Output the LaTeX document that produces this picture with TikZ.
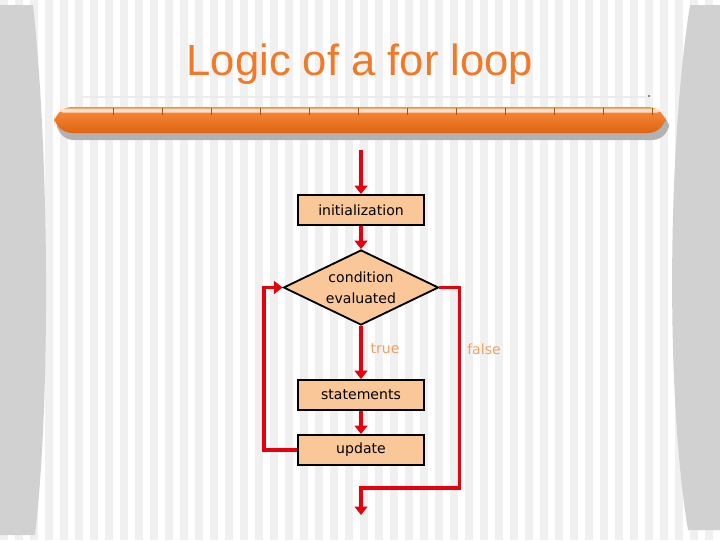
\documentclass[tikz,border=0pt]{standalone}
\usepackage{fontspec}
\setmainfont{Liberation Sans}
\newfontfamily\boxfont{DejaVu Sans}
\usepackage{xcolor}
\definecolor{colTitle}{RGB}{240,122,40}
\definecolor{colBarTop}{RGB}{250,140,60}
\definecolor{colBarBot}{RGB}{222,100,18}
\definecolor{colBox}{RGB}{250,200,152}
\definecolor{colFlow}{RGB}{230,0,12}
\definecolor{colLabel}{RGB}{240,160,100}
\colorlet{colStripe}{black!6}
\colorlet{colSide}{black!18}
\usepackage{tikz}
\usetikzlibrary{arrows.meta, positioning, calc, shapes.geometric}

\begin{document}
\begin{tikzpicture}[x=0.025cm, y=-0.025cm, >={Triangle[width=9pt, length=6pt]},
		stepbox/.style={draw, line width=1.3pt, fill=colBox, minimum width=3.15cm, minimum height=0.75cm, inner sep=0pt, font=\boxfont\fontsize{10}{12}\selectfont},
		testbox/.style={diamond, aspect=2.07, draw, line width=1.3pt, fill=colBox, minimum width=3.875cm, minimum height=1.875cm, inner sep=0pt, align=center, font=\boxfont\fontsize{10}{15}\selectfont},
		flow/.style={->, colFlow, line width=2.5pt},
		lbl/.style={text=colLabel, font=\boxfont\fontsize{10}{12}\selectfont}]
	% slide background
	\useasboundingbox (0,0) rectangle (720,540);
	\fill[white] (0,0) rectangle (720,540);
	\foreach \x in {0,15,...,705}{
		\fill[colStripe] (\x,0) rectangle (\x+7.5,540);
	}
	\fill[colSide] (0,5) -- (33,5) .. controls (49,150) and (51,400) .. (35,535) -- (0,535) -- cycle;
	\fill[colSide] (720,5) -- (690,5) .. controls (667,150) and (666,400) .. (688,530) -- (720,530) -- cycle;
	% title and bar
	\node[anchor=base, text=colTitle, font=\fontsize{31}{36}\selectfont] (title) at (360,75) {Logic of a for loop};
	\draw[black!8, line width=1.5pt] (80,97) -- (647,97);
	\fill[black!60] (649,96) circle (1.2);
	\fill[black!30, rounded corners=12] (57,112) rectangle (669,140);
	\shade[top color=colBarTop, bottom color=colBarBot, rounded corners=13] (54,107) rectangle (666,133);
	\fill[white!75!colBarTop, rounded corners=2] (60,108.5) rectangle (660,112.5);
	\foreach \x in {113,162,...,653}{
		\draw[colBarBot!80!black, line width=0.4pt] (\x,108) -- (\x,115);
	}
	% flow chart
	\coordinate (start) at (361,150);
	\node[stepbox] (init) at (361,210) {initialization};
	\node[testbox] (cond) at (361,287.5) {condition\\evaluated};
	\node[stepbox] (stmt) at (361,395) {statements};
	\node[stepbox] (upd) at (361,450) {update};
	\coordinate (join) at (361,488);
	\coordinate (exit) at (361,515);
	\node[lbl] (true) at (385,349) {true};
	\node[lbl] (false) at (484,349) {false};
	\draw[flow] (start) -- (init);
	\draw[flow] (init) -- (cond);
	\draw[flow] (cond) -- (stmt);
	\draw[flow] (stmt) -- (upd);
	\draw[flow] (upd.west) -- ++(-33,0) |- (cond.west);
	\draw[flow] (cond.east) -- ++(20,0) |- (join) -- (exit);
\end{tikzpicture}
\end{document}
